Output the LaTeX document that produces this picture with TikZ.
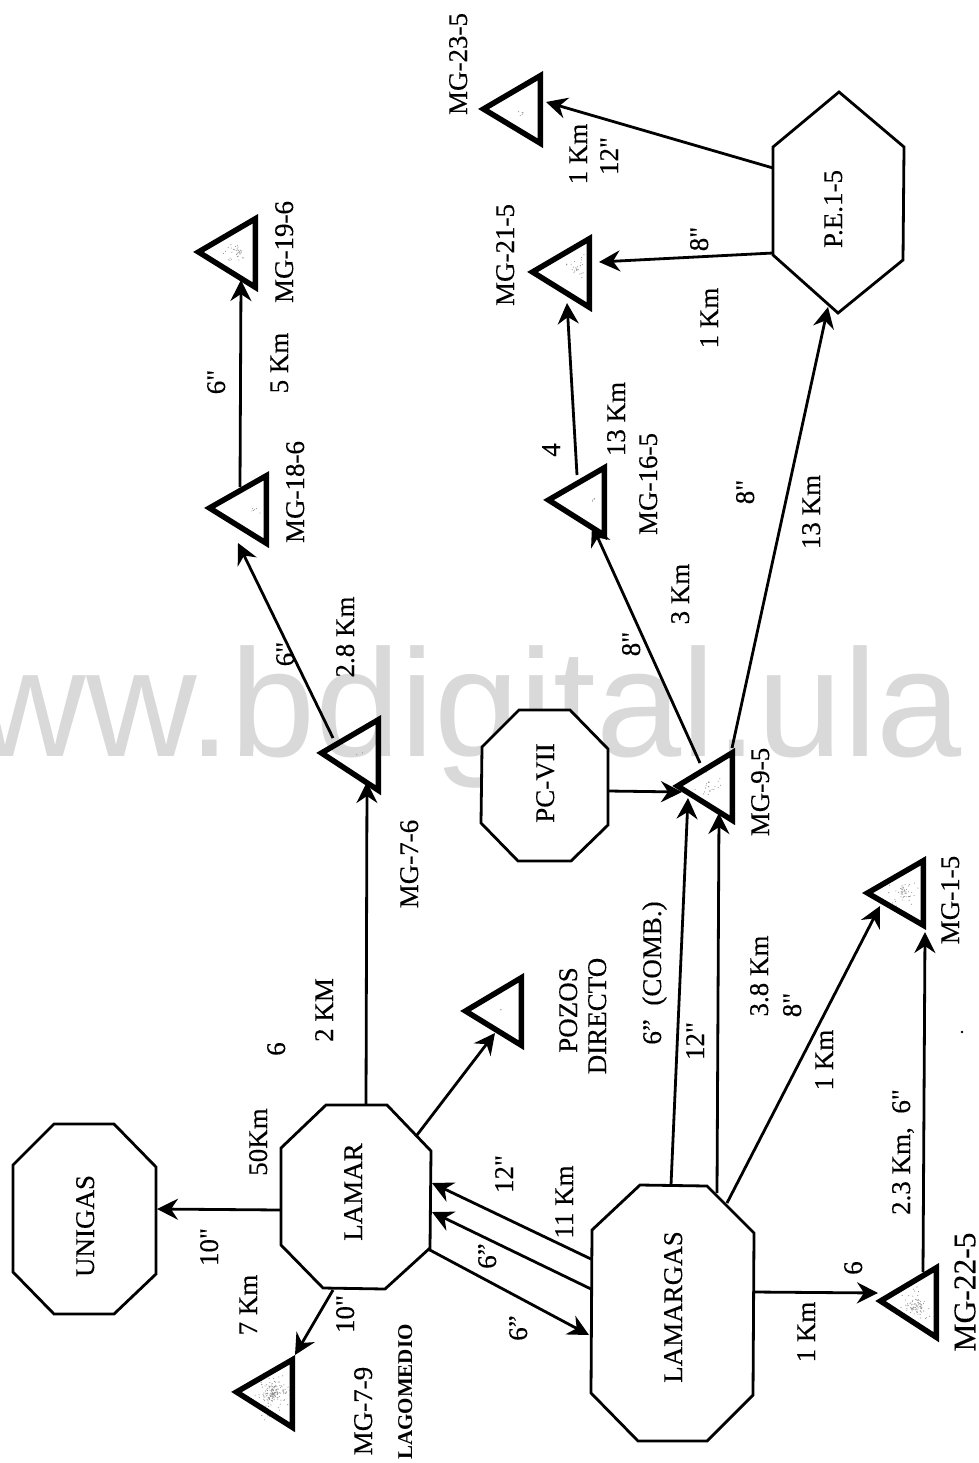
\documentclass[tikz,border=0pt]{standalone}
\usepackage{fontspec}
\newfontfamily\labfont[FakeBold=0.2]{Liberation Serif}
\newfontfamily\labbfont{Liberation Serif Bold}
\newfontfamily\wmfont{Liberation Sans}
\usetikzlibrary{arrows.meta}
\definecolor{wmgray}{HTML}{D9D9D9}
\tikzset{
  lab/.style={rotate=90,inner sep=0pt,outer sep=0pt,text height=18pt,text depth=0pt,align=center,font=\labfont\fontsize{27}{30}\selectfont},
  labbig/.style={lab,text height=20.5pt,font=\labfont\fontsize{31.5}{34}\selectfont},
  labbold/.style={lab,text height=14pt,font=\labbfont\fontsize{21}{24}\selectfont},
  outline/.style={draw=black,line width=2.8pt,line join=miter,fill=white},
  tristyle/.style={draw=black,line width=5.5pt,line join=miter},
  pipe/.style={draw=black,line width=2.8pt,-{Stealth[length=21pt,width=21pt,inset=7pt]}},
}
\newcommand{\tri}[6]{%
  \draw[tristyle] ({#2+5.5},#3) -- ({#4-2.75},{#5+4.8}) -- ({#4-2.75},{#6-4.8}) -- cycle;
  \coordinate (#1) at ({#4-20},#3);
}
% speckled grey in the middle of a triangle: centre x, centre y, radius, count
\newcommand{\speck}[4]{%
  \foreach \i in {1,...,#4}{
    \pgfmathsetmacro{\myang}{360*rnd}
    \pgfmathsetmacro{\myrad}{#3*rnd*rnd+0.2*#3*rnd}
    \fill[black!45] ({#1+\myrad*cos(\myang)},{#2+\myrad*sin(\myang)}) circle (0.55pt);
  }
}
\begin{document}
\begin{tikzpicture}[x=1pt,y=-1pt]
\useasboundingbox (0,0) rectangle (978,1463);
\fill[white] (0,0) rectangle (978,1463);
\begin{scope}
  \clip (0,0) rectangle (978,1463);
  \node[anchor=base west,inner sep=0pt,text=wmgray,font=\wmfont\fontsize{153}{153}\selectfont] (watermark) at (-135,756) {www.bdigital.ula};
\end{scope}

% ---- connector ends
\coordinate (lamarN) at (366,1105); \coordinate (mg76S) at (367,782);
\coordinate (lamarW) at (281,1210); \coordinate (unigasE) at (157,1209);
\coordinate (mg76T) at (333,738);  \coordinate (mg186S) at (238,543);
\coordinate (mg186T) at (240,487); \coordinate (mg196S) at (241,280);
\coordinate (lamarNE) at (417,1135); \coordinate (pozosS) at (495,1033);
\coordinate (lamgA) at (591,1259); \coordinate (lamarEa) at (432,1183);
\coordinate (lamgB) at (591,1289); \coordinate (lamarEb) at (432,1212);
\coordinate (lamarSE) at (428,1249); \coordinate (lamgC) at (589,1335);
\coordinate (lamarS) at (333,1290); \coordinate (mg79T) at (295,1355);
\coordinate (lamgE) at (754,1292); \coordinate (mg225W) at (878,1293);
\coordinate (mg225T) at (923,1272); \coordinate (mg15S) at (925,932);
\coordinate (lamgNE) at (727,1203); \coordinate (mg15W) at (880,906);
\coordinate (lamgN1) at (671,1185); \coordinate (mg95a) at (688,798);
\coordinate (lamgN2) at (717,1193); \coordinate (mg95b) at (719,813);
\coordinate (pcE) at (608,791); \coordinate (mg95W) at (682,792);
\coordinate (mg95T1) at (700,763); \coordinate (mg165S) at (592,525);
\coordinate (mg95T2) at (732,748); \coordinate (peS) at (828,307);
\coordinate (mg165T) at (577,475); \coordinate (mg215S) at (567,303);
\coordinate (peW1) at (773,253); \coordinate (mg215E) at (599,262);
\coordinate (peW2) at (773,168); \coordinate (mg235E) at (546,102);

% ---- connectors
\draw[pipe] (lamarW) -- (unigasE);
\draw[pipe] (lamarN) -- (mg76S);
\draw[pipe] (mg76T) -- (mg186S);
\draw[pipe] (mg186T) -- (mg196S);
\draw[pipe] (lamarNE) -- (pozosS);
\draw[pipe] (lamgA) -- (lamarEa);
\draw[pipe] (lamgB) -- (lamarEb);
\draw[pipe] (lamarSE) -- (lamgC);
\draw[pipe] (lamarS) -- (mg79T);
\draw[pipe] (lamgE) -- (mg225W);
\draw[pipe] (mg225T) -- (mg15S);
\draw[pipe] (lamgNE) -- (mg15W);
\draw[pipe] (lamgN1) -- (mg95a);
\draw[pipe] (lamgN2) -- (mg95b);
\draw[pipe] (pcE) -- (mg95W);
\draw[pipe] (mg95T1) -- (mg165S);
\draw[pipe] (mg95T2) -- (peS);
\draw[pipe] (mg165T) -- (mg215S);
\draw[pipe] (peW1) -- (mg215E);
\draw[pipe] (peW2) -- (mg235E);

% ---- stations
\draw[outline] (54,1124) -- (114,1124) -- (156,1167) -- (156,1274) -- (114,1314) -- (54,1314) -- (13,1272) -- (13,1165) -- cycle;
\draw[outline] (326,1105) -- (387,1105) -- (431,1151) -- (430,1248) -- (385,1289) -- (323,1288) -- (281,1245) -- (281,1148) -- cycle;
\draw[outline] (640,1185) -- (707,1186) -- (754,1233) -- (753,1395) -- (707,1441) -- (638,1441) -- (591,1393) -- (592,1230) -- cycle;
\draw[outline] (519,710) -- (570,710) -- (608,749) -- (608,825) -- (571,861) -- (518,861) -- (481,823) -- (482,747) -- cycle;
\draw[outline] (839,92) -- (904,147) -- (903,260) -- (838,313) -- (773,255) -- (773,147) -- cycle;

% ---- wells
\pgfmathsetseed{4711}
\speck{272}{1394}{24}{170}
\speck{918}{1306}{22}{90}
\speck{905}{893}{20}{50}
\speck{709}{786}{16}{22}
\speck{237}{252}{16}{35}
\speck{577}{268}{14}{25}
\speck{520}{114}{8}{6}
\speck{252}{508}{12}{6}
\speck{360}{753}{5}{2}
\speck{500}{1010}{5}{2}
\speck{593}{500}{10}{4}
\tri{mg79}{231}{1392}{295}{1355}{1432}
\tri{mg76}{316}{753}{381}{715}{795}
\tri{mg186}{204}{508}{269}{471}{548}
\tri{mg196}{193}{252}{258}{214}{292}
\tri{pozos}{460}{1011}{524}{973}{1050}
\tri{mg225}{875}{1301}{939}{1263}{1342}
\tri{mg15}{862}{893}{926}{856}{930}
\tri{mg95}{672}{786}{735}{748}{825}
\tri{mg165}{543}{500}{607}{463}{540}
\tri{mg215}{527}{272}{592}{234}{312}
\tri{mg235}{478}{109}{543}{71}{148}
\fill[black] (962,1032) circle (1.3pt);

% ---- labels
\node[lab] (tUNIGAS) at (85,1226) {UNIGAS};
\node[lab] (tLAMAR) at (353,1192) {LAMAR};
\node[lab] (tLAMARGAS) at (673,1307) {LAMARGAS};
\node[lab] (tPCVII) at (545,783) {PC-VII};
\node[lab] (tPE) at (833,209) {P.E.1-5};
\node[lab] (l50) at (258,1142) {50Km};
\node[lab] (l10a) at (209,1247) {10"};
\node[lab] (l7) at (248,1305) {7 Km};
\node[lab] (l10b) at (345,1314) {10"};
\node[lab] (tMG79) at (363,1411) {MG-7-9};
\node[labbold] (tLAGO) at (405,1392) {LAGOMEDIO};
\node[lab] (l6a) at (276,1049) {6};
\node[lab] (l2km) at (324,1010) {2 KM};
\node[lab] (l12a) at (504,1174) {12"};
\node[lab] (l11) at (564,1202) {11 Km};
\node[lab] (l6b) at (487,1256) {6”};
\node[lab] (l6c) at (518,1328) {6”};
\node[lab] (l1a) at (806,1332) {1 Km};
\node[lab] (l6d) at (853,1268) {6};
\node[lab] (l23) at (901,1152) {2.3 Km,\ \ 6"};
\node[labbig] (tMG225) at (965,1292) {MG-22-5};
\node[lab] (l1b) at (824,1060) {1 Km};
\node[lab] (l12b) at (695,1041) {12"};
\node[lab] (tPOZOS) at (568,1010) {POZOS};
\node[lab] (tDIR) at (597,1016) {DIRECTO};
\node[lab] (lCOMB) at (652,973) {6”\ \ (COMB.)};
\node[lab] (l38) at (759,976) {3.8 Km};
\node[lab] (l8a) at (792,1005) {8"};
\node[lab] (tMG95) at (760,792) {MG-9-5};
\node[lab] (tMG15) at (950,900) {MG-1-5};
\node[lab] (tMG235) at (458,64) {MG-23-5};
\node[lab] (l1c) at (578,154) {1 Km};
\node[lab] (l12c) at (609,156) {12"};
\node[lab] (l8b) at (699,239) {8"};
\node[lab] (tMG215) at (505,255) {MG-21-5};
\node[lab] (l1d) at (709,318) {1 Km};
\node[lab] (l4) at (551,450) {4};
\node[lab] (l13a) at (616,419) {13 Km};
\node[lab] (tMG165) at (648,484) {MG-16-5};
\node[lab] (l3) at (680,594) {3 Km};
\node[lab] (l8c) at (745,492) {8"};
\node[lab] (l13b) at (811,512) {13 Km};
\node[lab] (l8d) at (631,644) {8"};
\node[lab] (l6e) at (285,654) {6"};
\node[lab] (l28) at (345,637) {2.8 Km};
\node[lab] (tMG76) at (409,864) {MG-7-6};
\node[lab] (l6f) at (216,382) {6"};
\node[lab] (l5) at (279,363) {5 Km};
\node[lab] (tMG196) at (284,252) {MG-19-6};
\node[lab] (tMG186) at (295,492) {MG-18-6};
\end{tikzpicture}
\end{document}
